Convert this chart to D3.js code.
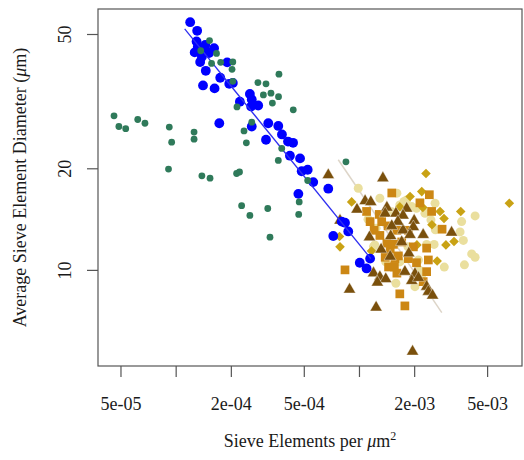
<!DOCTYPE html>
<html><head><meta charset="utf-8">
<script src="https://cdn.jsdelivr.net/npm/d3@7"></script>
<style>
body{margin:0;background:#fff}
svg{display:block}
text{font-family:"Liberation Serif","Times New Roman",serif;fill:#1a1a1a}
</style>
</head><body>
<svg id="c" width="524" height="460"></svg>
<script>
// ---- data ----
const xTicks = [5e-5, 1e-4, 2e-4, 5e-4, 1e-3, 2e-3, 5e-3];
const xTickLabels = ["5e-05", "", "2e-04", "5e-04", "", "2e-03", "5e-03"];
const yTicks = [10, 20, 50];
const yTickLabels = ["10", "20", "50"];

const bluePts = [[1.20e-4,54.2],[1.31e-4,51.1],[1.30e-4,47.5],[1.45e-4,46.4],[1.62e-4,45.4],[1.27e-4,44.1],[1.39e-4,42.8],[1.36e-4,41.3],[1.48e-4,44.3],[1.46e-4,38.9],[1.91e-4,41.2],[1.75e-4,37.1],[1.41e-4,35.2],[1.63e-4,34.5],[1.96e-4,35.6],[2.05e-4,35.8],[2.54e-4,33.2],[2.60e-4,32.0],[2.24e-4,31.5],[2.82e-4,30.7],[2.58e-4,30.5],[1.73e-4,27.2],[2.60e-4,26.6],[3.20e-4,27.2],[3.63e-4,26.7],[3.80e-4,25.2],[3.11e-4,24.3],[4.10e-4,24.0],[4.37e-4,23.8],[4.20e-4,21.8],[4.77e-4,21.4],[4.87e-4,19.6],[5.25e-4,19.8],[5.63e-4,18.2],[6.80e-4,17.4],[4.67e-4,16.8],[8.05e-4,13.9],[8.39e-4,13.8],[8.74e-4,13.0],[7.24e-4,12.6],[1.15e-3,10.8],[1.01e-3,10.5],[1.10e-3,10.1],[1.52e-4,43.9],[1.32e-4,45.8]];

const greenPts = [[1.53e-4,47.8],[1.37e-4,44.6],[1.67e-4,43.8],[1.57e-4,40.9],[1.76e-4,41.2],[2.05e-4,41.3],[2.03e-4,39.3],[2.05e-4,36.2],[2.81e-4,35.9],[3.11e-4,35.6],[3.66e-4,38.0],[3.01e-4,33.0],[3.31e-4,33.4],[3.64e-4,32.6],[3.37e-4,31.2],[4.38e-4,29.8],[2.16e-4,30.4],[4.61e-5,28.6],[4.90e-5,26.6],[5.34e-5,26.2],[6.21e-5,27.9],[6.80e-5,27.2],[9.23e-5,26.5],[9.51e-5,23.9],[1.26e-4,25.6],[1.26e-4,24.4],[9.14e-5,19.9],[1.39e-4,19.0],[1.54e-4,18.7],[2.15e-4,19.3],[2.23e-4,19.5],[2.36e-4,25.8],[2.60e-4,27.4],[2.43e-4,23.8],[3.79e-4,22.9],[3.63e-4,21.1],[2.29e-4,15.5],[2.54e-4,14.5],[3.18e-4,15.2],[4.72e-4,15.9],[4.69e-4,14.6],[3.27e-4,12.5],[5.25e-4,18.4],[8.49e-4,20.9]];

const trianglePts = [[6.80e-4,19.1],[1.35e-3,18.7],[1.08e-3,16.0],[1.16e-3,15.9],[9.75e-4,15.1],[1.42e-3,15.3],[1.39e-3,14.7],[1.59e-3,14.7],[1.82e-3,15.2],[1.74e-3,14.5],[2.00e-3,14.0],[1.98e-3,13.4],[1.74e-3,13.1],[1.90e-3,12.7],[2.24e-3,12.7],[3.20e-3,12.9],[7.88e-4,14.0],[1.14e-3,12.5],[1.49e-3,12.6],[1.71e-3,12.1],[1.32e-3,11.5],[1.48e-3,10.95],[1.87e-3,11.2],[1.20e-3,9.78],[1.30e-3,9.53],[1.40e-3,9.40],[1.26e-3,9.18],[1.78e-3,9.88],[2.02e-3,9.73],[1.94e-3,9.28],[2.11e-3,9.47],[2.34e-3,8.92],[2.39e-3,8.62],[2.52e-3,8.40],[8.88e-4,8.75],[1.24e-3,7.74],[1.96e-3,5.73],[1.63e-3,13.9],[1.51e-3,13.5]];

const squarePts = [[1.51e-3,16.9],[2.42e-3,16.7],[2.49e-3,14.9],[1.10e-3,14.9],[1.29e-3,14.6],[1.33e-3,13.9],[1.21e-3,13.1],[1.30e-3,12.65],[1.61e-3,13.1],[1.86e-3,13.1],[1.71e-3,12.1],[1.42e-3,12.0],[1.48e-3,11.5],[1.39e-3,10.9],[1.64e-3,11.0],[1.86e-3,10.8],[1.98e-3,11.7],[2.34e-3,11.6],[2.39e-3,10.7],[1.45e-3,10.2],[1.56e-3,10.2],[1.61e-3,9.78],[2.34e-3,9.88],[8.39e-4,10.0],[2.24e-3,9.23],[1.67e-3,8.49],[1.78e-3,7.82],[2.84e-3,13.2],[2.15e-3,15.8],[1.54e-3,11.9],[2.06e-3,10.5],[1.57e-3,10.8],[1.15e-3,13.9],[1.44e-3,13.5]];

const diamondPts = [[2.32e-3,19.3],[9.12e-4,15.9],[7.83e-4,12.56],[7.88e-4,11.7],[1.17e-3,11.38],[1.90e-3,16.5],[2.20e-3,17.06],[2.23e-3,15.3],[2.77e-3,14.9],[2.91e-3,14.2],[3.59e-3,14.9],[3.30e-3,12.14],[2.98e-3,11.86],[2.67e-3,10.63],[6.61e-3,15.76],[2.07e-3,11.86],[1.67e-3,15.37],[2.50e-3,13.6]];

const circlePts = [[1.30e-3,16.3],[9.91e-4,17.46],[1.67e-3,15.58],[1.82e-3,16.12],[2.06e-3,15.23],[2.60e-3,15.76],[2.29e-3,14.72],[2.47e-3,14.06],[2.61e-3,13.14],[3.63e-3,13.9],[4.30e-3,14.45],[3.56e-3,12.96],[3.71e-3,12.23],[2.57e-3,11.9],[2.34e-3,11.9],[4.12e-3,11.15],[4.30e-3,10.9],[3.76e-3,10.35],[2.92e-3,10.19],[2.11e-3,10.7],[1.12e-3,14.13],[1.24e-3,13.29],[1.20e-3,11.72],[2.02e-3,8.92],[1.59e-3,9.13],[1.22e-3,11.86],[2.13e-3,10.0],[2.20e-3,9.66],[1.94e-3,15.4],[1.76e-3,15.94],[1.51e-3,14.86],[1.61e-3,16.88],[1.85e-3,11.7],[1.67e-3,10.56],[1.40e-3,10.56]];

const blueLine = [[1.12e-4,51.8],[1.16e-3,10.8]];
const greyLine = [[7.71e-4,21.2],[2.83e-3,7.47]];

// ---- drawing ----
const svg = d3.select("#c");
const L = 98, R = 522, T = 9, B = 366;
const x = d3.scaleLog().domain([3.77e-5, 7.75e-3]).range([L, R]);
const y = d3.scaleLog().domain([5.19, 59.3]).range([B, T]);

const plot = svg.append("g");
const line = d3.line().x(d => x(d[0])).y(d => y(d[1]));

plot.append("path").datum(greyLine).attr("d", line)
  .attr("fill", "none").attr("stroke", "#ddd5c8").attr("stroke-width", 1.5);

plot.append("g").selectAll("circle").data(circlePts).join("circle")
  .attr("cx", d => x(d[0])).attr("cy", d => y(d[1])).attr("r", 4.5)
  .attr("fill", "#eadf9e");

const dia = d3.symbol().type(d3.symbolSquare).size(46);
plot.append("g").selectAll("path").data(diamondPts).join("path")
  .attr("d", dia)
  .attr("transform", d => `translate(${x(d[0])},${y(d[1])}) rotate(45)`)
  .attr("fill", "#c9a214");

const sq = d3.symbol().type(d3.symbolSquare).size(76);
plot.append("g").selectAll("path").data(squarePts).join("path")
  .attr("d", sq)
  .attr("transform", d => `translate(${x(d[0])},${y(d[1])})`)
  .attr("fill", "#cc8714");

const tri = d3.symbol().type(d3.symbolTriangle).size(64);
plot.append("g").selectAll("path").data(trianglePts).join("path")
  .attr("d", tri)
  .attr("transform", d => `translate(${x(d[0])},${y(d[1])})`)
  .attr("fill", "#7a500c").attr("stroke", "#fff").attr("stroke-width", 0.4);

plot.append("g").selectAll("circle").data(bluePts).join("circle")
  .attr("cx", d => x(d[0])).attr("cy", d => y(d[1])).attr("r", 4.9)
  .attr("fill", "#0000ff");

plot.append("path").datum(blueLine).attr("d", line)
  .attr("fill", "none").attr("stroke", "#2f2ff0").attr("stroke-width", 1.3);

plot.append("g").selectAll("circle").data(greenPts).join("circle")
  .attr("cx", d => x(d[0])).attr("cy", d => y(d[1])).attr("r", 3.4)
  .attr("fill", "#2f7a5a");

// frame
svg.append("rect").attr("x", L).attr("y", T).attr("width", R - L).attr("height", B - T)
  .attr("fill", "none").attr("stroke", "#555").attr("stroke-width", 1.2);

// x axis
const xAxis = d3.axisBottom(x).tickValues(xTicks)
  .tickFormat((d, i) => xTickLabels[i]).tickSize(11).tickPadding(20);
const gx = svg.append("g").attr("transform", `translate(0,${B})`).call(xAxis);
gx.select(".domain").remove();
gx.selectAll(".tick line").attr("stroke", "#555").attr("stroke-width", 1.2);
gx.selectAll("text").attr("font-size", 18).attr("font-family", "Liberation Serif").attr("fill", "#1a1a1a");

// y axis
const yAxis = d3.axisLeft(y).tickValues(yTicks)
  .tickFormat((d, i) => yTickLabels[i]).tickSize(11).tickPadding(0);
const gy = svg.append("g").attr("transform", `translate(${L},0)`).call(yAxis);
gy.select(".domain").remove();
gy.selectAll(".tick line").attr("stroke", "#555").attr("stroke-width", 1.2);
gy.selectAll("text")
  .attr("font-size", 18).attr("font-family", "Liberation Serif").attr("fill", "#1a1a1a")
  .attr("x", null).attr("dy", null)
  .attr("text-anchor", "middle")
  .attr("transform", "translate(-27,0) rotate(-90)");

// titles
const xt = svg.append("text").attr("x", (L + R) / 2).attr("y", 447)
  .attr("text-anchor", "middle").attr("font-size", 18);
xt.append("tspan").text("Sieve Elements per ");
xt.append("tspan").attr("font-style", "italic").text("\u03bc");
xt.append("tspan").text("m");
xt.append("tspan").attr("dy", -7).attr("font-size", 12).text("2");

const yt = svg.append("text")
  .attr("transform", `translate(26,${(T + B) / 2}) rotate(-90)`)
  .attr("text-anchor", "middle").attr("font-size", 18);
yt.append("tspan").text("Average Sieve Element Diameter (");
yt.append("tspan").attr("font-style", "italic").text("\u03bc");
yt.append("tspan").text("m)");
</script>
</body></html>
